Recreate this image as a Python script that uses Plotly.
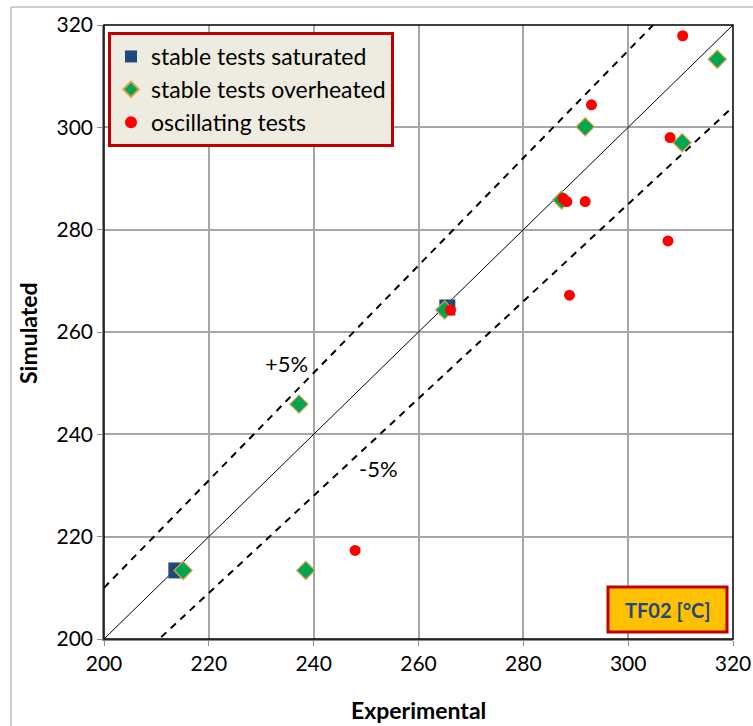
import plotly.graph_objects as go

# Stable tests, saturated outlet
sat_exp = [213.8, 265.5]
sat_sim = [213.4, 264.8]

# Stable tests, overheated outlet
ovh_exp = [215.1, 238.5, 237.2, 265.0, 287.3, 291.8, 310.3, 317.0]
ovh_sim = [213.4, 213.4, 245.9, 264.3, 285.8, 300.1, 297.0, 313.3]

# Oscillating tests
osc_exp = [247.9, 266.1, 287.6, 288.3, 291.8, 288.8, 293.0, 307.6, 308.0, 310.4]
osc_sim = [217.3, 264.3, 286.1, 285.5, 285.5, 267.2, 304.4, 277.8, 298.0, 317.9]

axis_min, axis_max = 200, 320
tick_vals = [200, 220, 240, 260, 280, 300, 320]
band = 0.05

FONT = "Lato"

# plot area in pixels (left, right, top, bottom)
PL, PR, PT, PB = 104, 733, 25, 639
W, H = 753, 726
PW, PH = PR - PL, PB - PT


def px(xp):
    return (xp - PL) / PW


def py(yp):
    return (PB - yp) / PH


fig = go.Figure()

# Reference lines: identity and +/-5 % band
ref_x = [axis_min, axis_max]
fig.add_trace(go.Scatter(x=ref_x, y=ref_x, mode="lines",
                         line=dict(color="black", width=1), showlegend=False, hoverinfo="skip"))
fig.add_trace(go.Scatter(x=ref_x, y=[v * (1 + band) for v in ref_x], mode="lines",
                         line=dict(color="black", width=2, dash="7px,6px"), showlegend=False, hoverinfo="skip"))
fig.add_trace(go.Scatter(x=ref_x, y=[v * (1 - band) for v in ref_x], mode="lines",
                         line=dict(color="black", width=2, dash="7px,6px"), showlegend=False, hoverinfo="skip"))

fig.add_trace(go.Scatter(x=sat_exp, y=sat_sim, mode="markers", name="stable tests saturated",
                         marker=dict(symbol="square", size=16, color="#1F497D")))
fig.add_trace(go.Scatter(x=ovh_exp, y=ovh_sim, mode="markers", name="stable tests overheated",
                         marker=dict(symbol="diamond", size=14, color="#00A650",
                                     line=dict(color="#E0A050", width=1.2))))
fig.add_trace(go.Scatter(x=osc_exp, y=osc_sim, mode="markers", name="oscillating tests",
                         marker=dict(symbol="circle", size=11, color="#FF0000")))

axis_common = dict(range=[axis_min, axis_max], tickvals=tick_vals, showgrid=True,
                   gridcolor="#A6A6A6", gridwidth=1.5, zeroline=False,
                   showline=True, linecolor="#8C8C8C", linewidth=1.5,
                   ticks="outside", ticklen=5, tickcolor="#8C8C8C", automargin=False,
                   tickfont=dict(family=FONT, size=21, color="black"))

fig.update_xaxes(**axis_common)
fig.update_yaxes(**axis_common)

label_common = dict(xref="paper", yref="paper", xanchor="center", yanchor="middle",
                    showarrow=False)

fig.update_layout(
    width=W, height=H,
    margin=dict(l=PL, r=W - PR, t=PT, b=H - PB, autoexpand=False),
    paper_bgcolor="white", plot_bgcolor="white",
    showlegend=True,
    legend=dict(x=px(108), y=py(32), xanchor="left", yanchor="top",
                bgcolor="#EEECE1", bordercolor="#C00000", borderwidth=3,
                font=dict(family=FONT, size=23, color="black"),
                itemsizing="constant", tracegroupgap=0),
    shapes=[
        # plot-area frame
        dict(type="rect", xref="paper", yref="paper", x0=0, y0=0, x1=1, y1=1,
             line=dict(color="black", width=1.5), layer="above"),
        # outer chart border
        dict(type="rect", xref="paper", yref="paper",
             x0=px(11), y0=py(H + 5), x1=px(W + 5), y1=py(7),
             line=dict(color="#A0A0A0", width=1)),
        # series label box
        dict(type="rect", xref="paper", yref="paper",
             x0=px(608), y0=py(632), x1=px(727), y1=py(587),
             fillcolor="#FFC000", line=dict(color="#C00000", width=3), layer="above"),
    ],
    annotations=[
        dict(x=234.9, y=253.8, xref="x", yref="y", text="+5%", showarrow=False,
             font=dict(family=FONT, size=22, color="black")),
        dict(x=252.3, y=233.4, xref="x", yref="y", text="-5%", showarrow=False,
             font=dict(family=FONT, size=22, color="black")),
        dict(x=px(667.5), y=py(610), text="<b>TF02 [°C]</b>",
             font=dict(family=FONT, size=20, color="#1F497D"), **label_common),
        dict(x=px(418), y=py(710), text="<b>Experimental</b>",
             font=dict(family=FONT, size=23, color="black"), **label_common),
        dict(x=px(28), y=py(333), textangle=-90, text="<b>Simulated</b>",
             font=dict(family=FONT, size=23, color="black"), **label_common),
    ],
)

fig.write_html("out.html")
